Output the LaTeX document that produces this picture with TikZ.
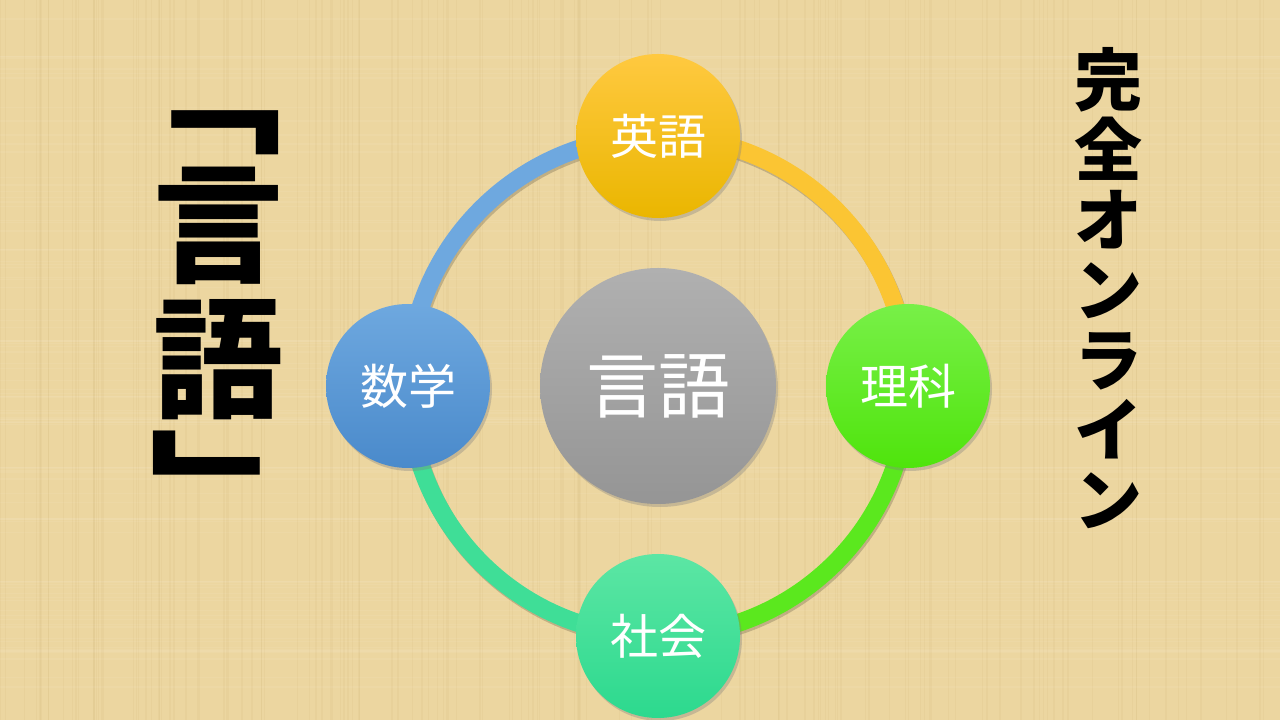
\documentclass[tikz,border=0pt]{standalone}
\usepackage{fontspec}
\newfontfamily\jpfont{Noto Sans CJK JP}
\usetikzlibrary{shadows}

\definecolor{paper}{HTML}{ECD6A0}
\definecolor{fibre}{HTML}{B99A58}
\definecolor{blueA}{HTML}{6EA8DF}
\definecolor{blueB}{HTML}{4A8ACB}
\definecolor{goldA}{HTML}{FFC940}
\definecolor{goldB}{HTML}{EAB600}
\definecolor{limeA}{HTML}{78F048}
\definecolor{limeB}{HTML}{4FE40C}
\definecolor{mintA}{HTML}{5CE6A4}
\definecolor{mintB}{HTML}{2CD98E}
\definecolor{greyA}{HTML}{B0B0B0}
\definecolor{greyB}{HTML}{959595}

\tikzset{
  subject/.style = {circle, minimum size=164pt, inner sep=0pt, text=white,
    font=\jpfont\fontsize{48}{48}\selectfont,
    drop shadow={opacity=0.35, shadow xshift=2pt, shadow yshift=-3pt}},
  hub/.style = {circle, minimum size=236pt, inner sep=0pt, text=white,
    top color=greyA, bottom color=greyB,
    font=\jpfont\fontsize{72}{72}\selectfont,
    drop shadow={opacity=0.35, shadow xshift=2pt, shadow yshift=-3pt}},
  ring/.style = {line width=18pt},
  ringshadow/.style = {line width=18pt, black, opacity=0.18},
  vertical/.style = {align=center, inner sep=0pt, text=black},
  wide/.style = {xscale=1.2, transform shape},
}

\begin{document}
\begin{tikzpicture}[x=1pt, y=1pt]
\useasboundingbox (0,0) rectangle (1280,720);
\fill[paper] (0,0) rectangle (1280,720);
% papyrus fibres
\pgfmathsetseed{7}
\foreach \i in {1,...,140} {
  \pgfmathsetmacro{\px}{1280*rnd}
  \pgfmathsetmacro{\pw}{0.4+1.6*rnd}
  \draw[fibre, opacity=0.07, line width=\pw pt] (\px,0) -- (\px,720);
}
\foreach \i in {1,...,90} {
  \pgfmathsetmacro{\py}{720*rnd}
  \pgfmathsetmacro{\pw}{0.4+1.6*rnd}
  \draw[white, opacity=0.06, line width=\pw pt] (0,\py) -- (1280,\py);
}

% ring anchors
\coordinate (top) at (658,584);
\coordinate (right) at (908,334);
\coordinate (bottom) at (658,84);
\coordinate (left) at (408,334);

\begin{scope}[transform canvas={shift={(1.5pt,-2.5pt)}}]
\draw[ringshadow] (left) to[bend left=45] (top);
\draw[ringshadow] (top) to[bend left=45] (right);
\draw[ringshadow] (right) to[bend left=45] (bottom);
\draw[ringshadow] (bottom) to[bend left=45] (left);
\end{scope}
\draw[ring, blueA] (left) to[bend left=45] (top);
\draw[ring, goldA!80!goldB] (top) to[bend left=45] (right);
\draw[ring, limeB!70!limeA] (right) to[bend left=45] (bottom);
\draw[ring, mintA!40!mintB] (bottom) to[bend left=45] (left);

\node[hub] (gengo) at (658,334) {言語};

\begin{scope}[every node/.style = {subject}]
\node[top color=goldA, bottom color=goldB] (eigo) at (top) {英語};
\node[top color=limeA, bottom color=limeB] (rika) at (right) {理科};
\node[top color=mintA, bottom color=mintB] (shakai) at (bottom) {社会};
\node[top color=blueA, bottom color=blueB] (sugaku) at (left) {数学};
\end{scope}

% vertical title, one glyph per node
\begin{scope}[every node/.style = {vertical, font=\jpfont\bfseries\fontsize{130}{130}\selectfont}]
\node[wide] (open) at (204,587) {﹁};
\node (gen) at (218,494) {言};
\node (go) at (218,360) {語};
\node[wide] (close) at (227,235) {﹂};
\end{scope}
\node[vertical, font=\jpfont\bfseries\fontsize{68}{70}\selectfont] (online) at (1108,432) {完\\全\\オ\\ン\\ラ\\イ\\ン};
\end{tikzpicture}
\end{document}
